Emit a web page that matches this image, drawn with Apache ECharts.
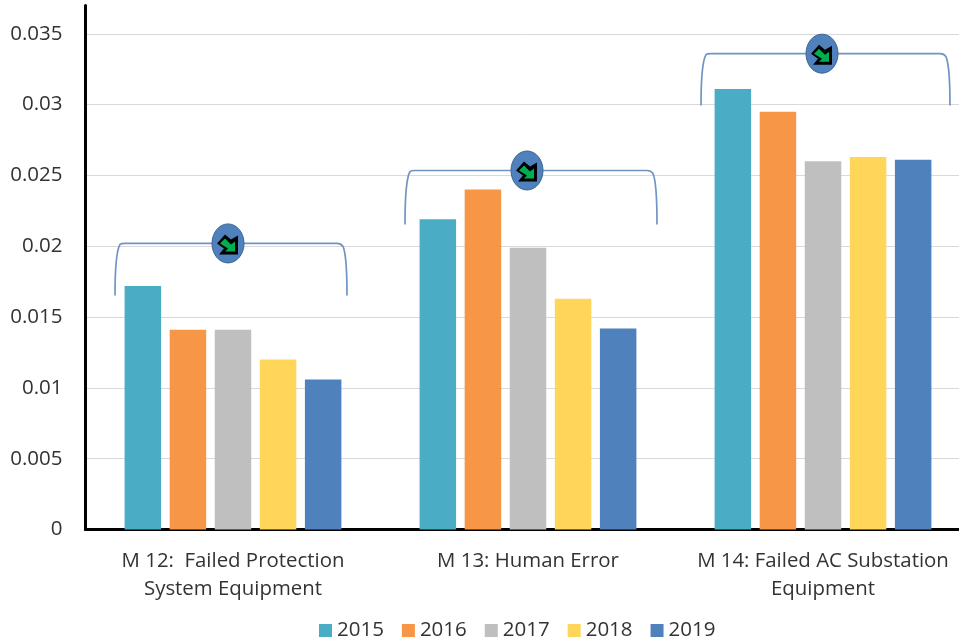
<!DOCTYPE html>
<html><head><meta charset="utf-8">
<style>html,body{margin:0;padding:0;background:#fff}#c{width:959px;height:643px}</style>
<script src="https://cdn.jsdelivr.net/npm/echarts@6/dist/echarts.min.js"></script>
</head><body><div id="c"></div>
<script>
const categories = ["M 12:  Failed Protection\nSystem Equipment", "M 13: Human Error", "M 14: Failed AC Substation\nEquipment"];
const years = ["2015", "2016", "2017", "2018", "2019"];
const v2015 = [0.0172, 0.0219, 0.0311];
const v2016 = [0.0141, 0.0240, 0.0295];
const v2017 = [0.0141, 0.0199, 0.0260];
const v2018 = [0.0120, 0.0163, 0.0263];
const v2019 = [0.0106, 0.0142, 0.0261];
const colors = ["#4bacc6", "#f79646", "#bfbfbf", "#ffd55a", "#4f81bd"];
// category index, bracket top value, bracket foot value
const brackets = [[0, 0.0202, 0.01652], [1, 0.02535, 0.02154], [2, 0.0336, 0.02994]];
const bracketSpan = [[-118, 114, -5], [-123, 129, -1], [-122, 127, -1]];
const allValues = [v2015, v2016, v2017, v2018, v2019];
const font = '"Open Sans", sans-serif';

function renderBracket(params, api) {
  const i = params.dataIndex;
  const top = api.coord([api.value(0), api.value(1)]);
  const foot = api.coord([api.value(0), api.value(2)]);
  const [l, r, off] = bracketSpan[i];
  const x0 = top[0] + l, x1 = top[0] + r, y0 = top[1], y1 = foot[1];
  const cx = top[0] + off, cy = y0;
  const arrowOuter = [[-11,0],[-3,-9],[3,-4],[10,-8],[10,11],[-9,11],[-4,5]];
  const arrowInner = [[-8,0],[-3,-5],[3,1],[7,-2],[7,8],[-3,8],[0,5]];
  return { type: 'group', children: [
    { type: 'path', shape: { pathData: `M${x0} ${y1} C${x0} ${y1-20} ${x0+1} ${y0+8} ${x0+5} ${y0+1} Q${x0+6} ${y0} ${x0+10} ${y0} L${x1-10} ${y0} Q${x1-6} ${y0} ${x1-4} ${y0+3} C${x1-1} ${y0+10} ${x1} ${y1-20} ${x1} ${y1}` },
      style: { fill: 'none', stroke: '#6f94c6', lineWidth: 1.7 } },
    { type: 'ellipse', shape: { cx, cy, rx: 16, ry: 19.5 }, style: { fill: '#4f81bd', stroke: '#3b6292', lineWidth: 1 } },
    { type: 'polygon', shape: { points: arrowOuter.map(p => [cx + p[0], cy + p[1]]) }, style: { fill: '#000' } },
    { type: 'polygon', shape: { points: arrowInner.map(p => [cx + p[0], cy + p[1]]) }, style: { fill: '#00b050' } }
  ]};
}

const chart = echarts.init(document.getElementById('c'), null, { renderer: 'canvas' });
chart.setOption({
  animation: false,
  backgroundColor: '#fff',
  textStyle: { fontFamily: font },
  grid: { left: 85.5, top: 5.5, width: 885, height: 524, containLabel: false, outerBoundsMode: 'none' },
  legend: {
    data: years, left: 314, top: 615, itemWidth: 13, itemHeight: 13, itemGap: 18,
    icon: 'rect', itemStyle: { borderWidth: 0 },
    textStyle: { fontSize: 20.5, color: '#333', fontFamily: font }
  },
  xAxis: {
    type: 'category', data: categories,
    axisLine: { onZero: false, lineStyle: { color: '#000', width: 3 } },
    axisTick: { show: false },
    axisLabel: { fontSize: 20.4, color: '#333', lineHeight: 28, margin: 18, interval: 0, fontFamily: font }
  },
  yAxis: {
    type: 'value', min: 0, max: 0.037, interval: 0.005,
    axisLine: { show: true, lineStyle: { color: '#000', width: 3 } },
    axisTick: { show: false },
    axisLabel: { fontSize: 20.5, color: '#333', margin: 23, showMaxLabel: false, fontFamily: font,
      formatter: v => String(+v.toFixed(3)) },
    splitLine: { show: true, showMaxLine: false, lineStyle: { color: '#d9d9d9', width: 1 } }
  },
  series: [
    ...years.map((y, i) => ({
      name: y, type: 'bar', data: allValues[i], barWidth: 36.5, barGap: '23.5%',
      itemStyle: { color: colors[i] }
    })),
    { type: 'custom', coordinateSystem: 'cartesian2d', renderItem: renderBracket, z: 10, silent: true,
      clip: false, encode: { x: 0, y: 1 }, data: brackets }
  ]
});
</script></body></html>
